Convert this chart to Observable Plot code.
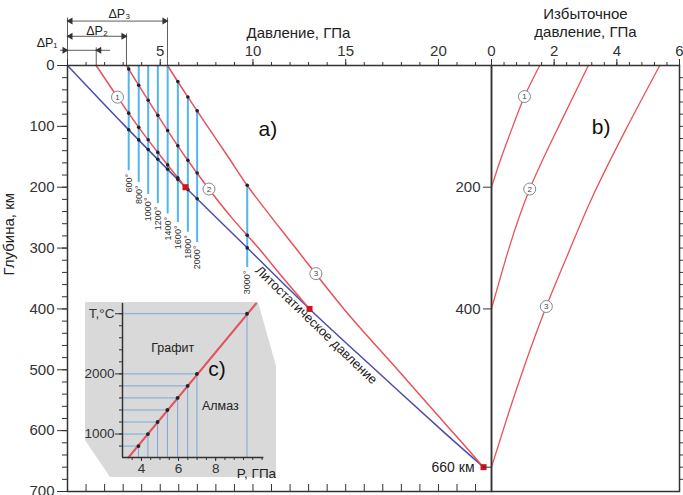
<!DOCTYPE html>
<html><head><meta charset="utf-8">
<script src="https://cdn.jsdelivr.net/npm/d3@7"></script>
<script src="https://cdn.jsdelivr.net/npm/@observablehq/plot@0.6"></script>
<style>
body{margin:0;background:#fff;}
#wrap{position:relative;width:683px;height:495px;overflow:hidden;font-family:"Liberation Sans",Arial,sans-serif;}
#wrap svg{position:absolute;left:0;top:0;}
#gray{position:absolute;left:0;top:0;width:683px;height:495px;background:#d9d9d9;
 clip-path:polygon(85px 302px,258px 302px,276px 366px,276px 477px,110px 477px,85px 440px);}
</style></head>
<body><div id="wrap"><div id="gray"></div></div>
<script>
// ---------- data ----------
// lithostatic pressure, GPa vs depth, km
const lithoDepth = [0,100,200,300,400,500,600,660];
const lithoP     = [0,3.12,6.36,9.7,13.05,16.6,20.2,22.43];
// pressure curves 1..3 (panel a)
const red1Depth = [0,50,100,150,200];
const red1P     = [1.55,2.65,3.8,5.05,6.36];
const red2Depth = [0,50,100,150,200,250,300,350,400];
const red2P     = [3.18,4.2,5.25,6.35,7.55,8.85,10.3,11.65,13.05];
const red3Depth = [0,50,100,150,200,300,400,500,600,660];
const red3P     = [5.39,6.45,7.55,8.66,9.76,12.3,14.9,17.8,20.7,22.43];
// merge points of the curves with the lithostatic line
const mergeDepth = [200,400,660];
const mergeP     = [6.36,13.05,22.43];
// graphite–diamond transition isotherms
const isoT        = [600,800,1000,1200,1400,1600,1800,2000,3000];
const isoP        = [3.30,3.84,4.35,4.87,5.40,5.95,6.49,6.99,9.69];
const isoTopKm    = [0,0,0,0,0,25,52,77,197];
const isoBottomKm = [173,192,212,227,244,258,274,291,332];
// excess pressure (panel b)
const ex1Depth = [0,50,100,150,200];              const ex1 = [1.54,1.06,0.68,0.32,0];
const ex2Depth = [0,107,203,300,400];             const ex2 = [3.09,2.08,1.22,0.56,0];
const ex3Depth = [0,107,216,300,396,491,580,660]; const ex3 = [5.37,4.27,3.22,2.52,1.75,1.07,0.49,0];
// curve number label depths
const labelDepthA = [52,203,342];
const labelDepthB = [51,203,396];
// inset c: graphite–diamond equilibrium line
const gdT = [610,3170];
const gdP = [3.30,10.18];

// ---------- helpers ----------
const W = 683, H = 495;
const RED = "#e8525a", LITHO = "#4d4dab", ISO = "#52b6ee", INB = "#7aa6dc", AX = "#333";
const style = {background:"transparent", fontFamily:'"Liberation Sans", Arial, sans-serif', fontSize:"15px", color:AX, overflow:"visible"};
const fmt = d => String(d);
const rows = (d,p,name) => d.map((v,i)=>({depth:v, P:p[i], name}));
const litho = rows(lithoDepth, lithoP, "L");
const reds = [rows(red1Depth,red1P,"1"), rows(red2Depth,red2P,"2"), rows(red3Depth,red3P,"3")];
const redDefs = [[red1Depth,red1P],[red2Depth,red2P],[red3Depth,red3P]];
const iso = isoT.map((t,i)=>({T:t, P:isoP[i], top:isoTopKm[i], bottom:isoBottomKm[i], label:t+"°"}));

// intersections of isotherms with the curves
const curveDefs = [[lithoDepth,lithoP], ...redDefs];
const isoDots = [];
curveDefs.forEach(([d,p])=>{
  const inv = d3.scaleLinear(p, d);
  iso.forEach(o=>{
    if (o.P < p[0] || o.P > p[p.length-1]) return;
    const z = inv(o.P);
    if (z < 5 || z < o.top - 3 || z > o.bottom) return;
    isoDots.push({P:o.P, depth:z});
  });
});
const labelsA = labelDepthA.map((z,i)=>({n:String(i+1), depth:z, P:d3.scaleLinear(redDefs[i][0], redDefs[i][1])(z)}));
const exDefs = [[ex1Depth,ex1],[ex2Depth,ex2],[ex3Depth,ex3]];
const exRows = exDefs.flatMap(([d,e],k)=>d.map((z,i)=>({depth:z, E:e[i], name:String(k+1)})));
const labelsB = labelDepthB.map((z,i)=>({n:String(i+1), depth:z, E:d3.scaleLinear(exDefs[i][0], exDefs[i][1])(z)}));
const merges = mergeDepth.map((z,i)=>({depth:z, P:mergeP[i]}));
const lithoLabelDepth = 410;
const lithoLabelP = d3.scaleLinear(lithoDepth, lithoP)(lithoLabelDepth);
const dP = [red1P[0], red2P[0], red3P[0]];

// ---------- panel a ----------
const plotA = Plot.plot({
  width:W, height:H, marginLeft:67, marginRight:192, marginTop:65, marginBottom:4,
  x:{domain:[0,22.86]}, y:{domain:[0,700], reverse:true}, style,
  marks:[
    Plot.ruleX(iso, {x:"P", y1:"top", y2:"bottom", stroke:ISO, strokeWidth:2}),
    Plot.text(iso, {x:"P", y:"bottom", text:"label", rotate:-90, textAnchor:"end", dy:3, fontSize:9, fill:"#333"}),
    Plot.line(litho, {x:"P", y:"depth", stroke:LITHO, strokeWidth:1.5, curve:"catmull-rom"}),
    ...reds.map(r=>Plot.line(r, {x:"P", y:"depth", stroke:RED, strokeWidth:1.5, curve:"catmull-rom"})),
    Plot.dot(isoDots, {x:"P", y:"depth", r:1.8, fill:"#222"}),
    Plot.dot(merges, {x:"P", y:"depth", symbol:"square", r:3.4, fill:"#d0141c"}),
    Plot.dot(labelsA, {x:"P", y:"depth", r:6, fill:"white", stroke:"#888", strokeWidth:1}),
    Plot.text(labelsA, {x:"P", y:"depth", text:"n", fontSize:8, fill:"#444"}),
    Plot.text(["Литостатическое давление"], {x:()=>lithoLabelP, y:()=>lithoLabelDepth, rotate:44, dy:10, fontSize:13, fill:"#222"}),
    Plot.text(["660 км"], {x:()=>mergeP[2], y:()=>mergeDepth[2], textAnchor:"end", dx:-9, fontSize:14, fill:"#222"}),
    Plot.text(["a)"], {x:()=>10.8, y:()=>104, fontSize:21, fill:"#111"}),
    // ΔP dimension lines
    Plot.ruleX([0, dP[2]], {y1:-78, y2:0, stroke:AX, strokeWidth:0.8}),
    Plot.ruleX([dP[1]], {y1:-52, y2:0, stroke:AX, strokeWidth:0.8}),
    Plot.ruleX([dP[0]], {y1:-29, y2:0, stroke:AX, strokeWidth:0.8}),
    Plot.ruleY([-73], {x1:0, x2:dP[2], stroke:AX, strokeWidth:0.8}),
    Plot.ruleY([-48], {x1:0, x2:dP[1], stroke:AX, strokeWidth:0.8}),
    Plot.ruleY([-25], {x1:-0.38, x2:2.32, stroke:AX, strokeWidth:0.8}),
    Plot.dot([[0,-73],[0,-48]], {x:d=>d[0], y:d=>d[1], symbol:"triangle", r:2.6, rotate:-90, dx:3, fill:AX}),
    Plot.dot([[dP[2],-73],[dP[1],-48]], {x:d=>d[0], y:d=>d[1], symbol:"triangle", r:2.6, rotate:90, dx:-3, fill:AX}),
    Plot.dot([[0,-25]], {x:d=>d[0], y:d=>d[1], symbol:"triangle", r:2.6, rotate:90, dx:-3, fill:AX}),
    Plot.dot([[dP[0],-25]], {x:d=>d[0], y:d=>d[1], symbol:"triangle", r:2.6, rotate:-90, dx:3, fill:AX}),
    Plot.text(["ΔP₃"], {x:()=>dP[2]/2+0.1, y:()=>-73, dy:-7, fontSize:12.5, fill:"#222"}),
    Plot.text(["ΔP₂"], {x:()=>dP[1]/2, y:()=>-48, dy:-5, fontSize:12.5, fill:"#222"}),
    Plot.text(["ΔP₁"], {x:()=>-1.1, y:()=>-25, dy:-7, fontSize:12.5, fill:"#222"}),
    // axes
    Plot.axisY({ticks:d3.range(0,701,20), tickSize:5, tickFormat:()=>"", label:null}),
    Plot.axisY({ticks:d3.range(0,701,100), tickSize:10, tickPadding:3, tickFormat:fmt, label:null, fontSize:15}),
    Plot.axisX({anchor:"top", ticks:d3.range(0,23), tickSize:4, tickFormat:()=>"", label:null}),
    Plot.axisX({anchor:"top", ticks:[0,5,10,15,20], tickSize:7, tickPadding:3, tickFormat:d=>d===0?"":String(d), label:null, fontSize:15}),
    Plot.ruleX(d3.range(1,23), {y1:700, y2:688.5, stroke:AX}),
    Plot.frame({stroke:AX, strokeWidth:1.5}),
    Plot.text(["Давление, ГПа"], {frameAnchor:"top", dx:19, dy:-38, fontSize:15, fill:"#222"}),
    Plot.text(["Глубина, км"], {frameAnchor:"left", rotate:-90, dx:-58, dy:-3, fontSize:15, fill:"#222"})
  ]
});

// ---------- panel b ----------
const plotB = Plot.plot({
  width:W, height:H, marginLeft:491, marginRight:4, marginTop:65, marginBottom:4,
  x:{domain:[0,6]}, y:{domain:[0,700], reverse:true}, style,
  marks:[
    Plot.line(exRows, {x:"E", y:"depth", z:"name", stroke:RED, strokeWidth:1.3, curve:"natural"}),
    Plot.dot(labelsB, {x:"E", y:"depth", r:6, fill:"white", stroke:"#888", strokeWidth:1}),
    Plot.text(labelsB, {x:"E", y:"depth", text:"n", fontSize:8, fill:"#444"}),
    Plot.text(["b)"], {x:()=>3.5, y:()=>102, fontSize:21, fill:"#111"}),
    Plot.axisX({anchor:"top", ticks:d3.range(0,16).map(i=>i*0.4), tickSize:4, tickFormat:()=>"", label:null}),
    Plot.axisX({anchor:"top", ticks:[0,2,4,6], tickSize:7, tickPadding:3, tickFormat:fmt, label:null, fontSize:15}),
    Plot.axisY({anchor:"left", ticks:[200,400,660], tickSize:8, tickPadding:3, tickFormat:d=>d===660?"":String(d), label:null, fontSize:15}),
    Plot.axisY({anchor:"right", ticks:d3.range(20,700,20), tickSize:4, tickFormat:()=>"", label:null}),
    Plot.frame({stroke:AX, strokeWidth:1.5}),
    Plot.text(["Избыточное\nдавление, ГПа"], {frameAnchor:"top", lineAnchor:"top", dy:-59, lineHeight:1.2, fontSize:15, fill:"#222"})
  ]
});

// ---------- inset c ----------
const insetRows = iso.filter(o=>o.T>=800);
const gd = gdT.map((t,i)=>({T:t, P:gdP[i]}));
const P0 = 2.98, T0 = 610;
const plotC = Plot.plot({
  width:W, height:H, marginLeft:122, marginRight:419.6, marginTop:303, marginBottom:38,
  x:{domain:[P0,10.6]}, y:{domain:[T0,3170]}, style,
  marks:[
    Plot.ruleY(insetRows, {y:"T", x1:P0, x2:"P", stroke:INB, strokeWidth:1}),
    Plot.ruleX(insetRows, {x:"P", y1:T0, y2:"T", stroke:INB, strokeWidth:1}),
    Plot.line(gd, {x:"P", y:"T", stroke:"#e05560", strokeWidth:2}),
    Plot.dot(insetRows, {x:"P", y:"T", r:1.9, fill:"#222"}),
    Plot.ruleX([P0], {stroke:AX, strokeWidth:1.5}),
    Plot.ruleY([T0], {stroke:AX, strokeWidth:1.5}),
    Plot.axisY({ticks:d3.range(800,3200,200), tickSize:3, tickFormat:()=>"", label:null}),
    Plot.axisY({ticks:[1000,2000,3000], tickSize:7, tickPadding:1, tickFormat:d=>d===3000?"T,°C":String(d), label:null, fontSize:13.5}),
    Plot.axisX({ticks:d3.range(3.5,10.6,0.5), tickSize:3, tickFormat:()=>"", label:null}),
    Plot.axisX({ticks:[4,6,8], tickSize:4, tickPadding:2, tickFormat:fmt, label:null, fontSize:13.5}),
    Plot.text(["P, ГПа"], {x:()=>10.2, y:()=>T0, dy:16, fontSize:13.5, fill:"#222"}),
    Plot.text(["Графит"], {x:()=>5.69, y:()=>2433, fontSize:12.5, fill:"#222"}),
    Plot.text(["Алмаз"], {x:()=>8.25, y:()=>1460, fontSize:12.5, fill:"#222"}),
    Plot.text(["c)"], {x:()=>8.07, y:()=>2072, fontSize:21, fill:"#111"})
  ]
});

const wrap = document.getElementById("wrap");
wrap.append(plotA, plotB, plotC);
</script>
</body></html>
